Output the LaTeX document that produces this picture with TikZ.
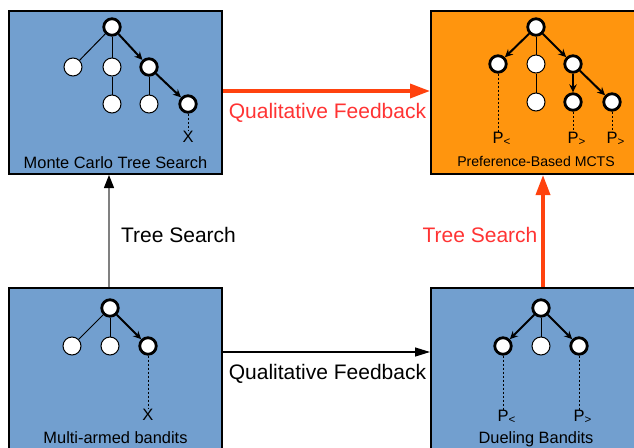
\documentclass[tikz,border=0pt]{standalone}
\usepackage{fontspec}
\setmainfont{Liberation Sans}
\usetikzlibrary{arrows.meta}

\definecolor{boxblue}{HTML}{729FCF}
\definecolor{boxorange}{HTML}{FF950E}
\definecolor{arrowred}{HTML}{FF420E}
\definecolor{textred}{HTML}{FF3333}

\tikzset{
  bluebox/.style={draw, line width=2pt, fill=boxblue, inner sep=0pt},
  orangebox/.style={draw, line width=2pt, fill=boxorange, inner sep=0pt},
  tnode/.style={circle, draw, fill=white, line width=1pt, minimum size=18pt, inner sep=0pt},
  bnode/.style={tnode, line width=2.8pt, minimum size=16.5pt},
  tedge/.style={line width=1pt},
  tarrow/.style={line width=2pt, -{Stealth[length=8pt,width=7.5pt]}},
  dedge/.style={line width=0.8pt, dash pattern=on 2.5pt off 1.5pt},
  boxlabel/.style={anchor=base, inner sep=0pt, font=\fontsize{16.4}{18}\selectfont},
  flowlabel/.style={anchor=base, inner sep=0pt, font=\fontsize{21}{24}\selectfont},
  leaflabel/.style={inner sep=0pt, font=\fontsize{16.5}{18}\selectfont},
}

\begin{document}
\begin{tikzpicture}[x=1pt, y=-1pt]

\clip (0,0) rectangle (634,447);

% Boxes
\node[bluebox, minimum width=213pt, minimum height=163pt] (mcts) at (115.5,92.5) {};
\node[orangebox, minimum width=224pt, minimum height=163pt] (pbmcts) at (543,92.5) {};
\node[bluebox, minimum width=213pt, minimum height=182pt] (mab) at (115.5,379) {};
\node[bluebox, minimum width=224pt, minimum height=182pt] (db) at (543,379) {};

% Box titles
\node[boxlabel] (mctstitle) at (115.5,168) {Monte Carlo Tree Search};
\node[boxlabel, font=\fontsize{14.1}{16}\selectfont] (pbmctstitle) at (536,166) {Preference-Based MCTS};
\node[boxlabel] (mabtitle) at (115.5,443) {Multi-armed bandits};
\node[boxlabel] (dbtitle) at (536,443) {Dueling Bandits};

% Monte Carlo Tree Search tree
\node[bnode] (m0) at (112,27) {};
\node[tnode] (m1) at (73,67) {};
\node[tnode] (m2) at (112,67) {};
\node[bnode] (m3) at (149,67) {};
\node[tnode] (m4) at (112,104) {};
\node[tnode] (m5) at (149,104) {};
\node[bnode] (m6) at (188,104) {};
\node[leaflabel] (mx) at (188,137) {X};
\draw[tedge] (m0) -- (m1);
\draw[tedge] (m0) -- (m2);
\draw[tedge] (m2) -- (m4);
\draw[tedge] (m3) -- (m5);
\draw[tarrow] (m0) -- (m3);
\draw[tarrow] (m3) -- (m6);
\draw[dedge] (m6.south) -- (mx.north);

% Preference-Based MCTS tree
\node[bnode] (p0) at (536,27) {};
\node[bnode] (p1) at (498,64) {};
\node[tnode] (p2) at (536,64) {};
\node[bnode] (p3) at (573,64) {};
\node[tnode] (p4) at (536,102) {};
\node[bnode] (p5) at (573,102) {};
\node[bnode] (p6) at (612,102) {};
\node[leaflabel] (pl) at (498,139) {P\rlap{\textsubscript{<}}};
\node[leaflabel] (pg1) at (573,139) {P\rlap{\textsubscript{>}}};
\node[leaflabel] (pg2) at (612,139) {P\rlap{\textsubscript{>}}};
\draw[tedge] (p0) -- (p2);
\draw[tedge] (p2) -- (p4);
\draw[tarrow] (p0) -- (p1);
\draw[tarrow] (p0) -- (p3);
\draw[tarrow] (p3) -- (p5);
\draw[tarrow] (p3) -- (p6);
\draw[dedge] (p1.south) -- (pl.north);
\draw[dedge] (p5.south) -- (pg1.north);
\draw[dedge] (p6.south) -- (pg2.north);

% Multi-armed bandits tree
\node[bnode] (b0) at (110,308) {};
\node[tnode] (b1) at (72,346) {};
\node[tnode] (b2) at (110,346) {};
\node[bnode] (b3) at (148,346) {};
\node[leaflabel] (bx) at (148,415) {X};
\draw[tedge] (b0) -- (b1);
\draw[tedge] (b0) -- (b2);
\draw[tarrow] (b0) -- (b3);
\draw[dedge] (b3.south) -- (bx.north);

% Dueling Bandits tree
\node[bnode] (d0) at (541,308) {};
\node[bnode] (d1) at (503,346) {};
\node[tnode] (d2) at (541,346) {};
\node[bnode] (d3) at (579,346) {};
\node[leaflabel] (dl) at (503,417) {P\rlap{\textsubscript{<}}};
\node[leaflabel] (dg) at (579,417) {P\rlap{\textsubscript{>}}};
\draw[tedge] (d0) -- (d2);
\draw[tarrow] (d0) -- (d1);
\draw[tarrow] (d0) -- (d3);
\draw[dedge] (d1.south) -- (dl.north);
\draw[dedge] (d3.south) -- (dg.north);

% Connections between boxes
\draw[arrowred, line width=3.5pt, -{Triangle[length=20pt,width=14pt]}]
  ([yshift=1.5pt]mcts.east) -- ([yshift=1.5pt]pbmcts.west);
\draw[arrowred, line width=3.5pt, -{Triangle[length=20pt,width=14pt]}]
  (db.north) -- (pbmcts.south);
\draw[line width=1.2pt, -{Triangle[length=15pt,width=9pt]}]
  ([yshift=27pt]mab.east) -- ([yshift=27pt]db.west);
\draw[gray, line width=1.2pt, -{Triangle[length=13pt,width=10pt,color=black]}]
  ([xshift=-6.5pt]mab.north) -- ([xshift=-6.5pt]mcts.south);

% Connection labels
\node[flowlabel, textred] (qfred) at (327.5,118) {Qualitative Feedback};
\node[flowlabel] (qfblack) at (327.5,379) {Qualitative Feedback};
\node[flowlabel] (tsblack) at (178.5,242) {Tree Search};
\node[flowlabel, textred] (tsred) at (480,242) {Tree Search};

\end{tikzpicture}
\end{document}
